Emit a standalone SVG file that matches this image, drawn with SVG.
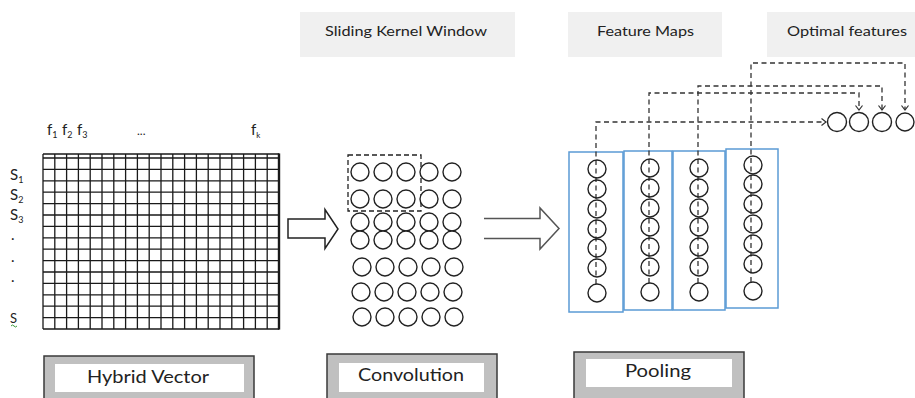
<svg xmlns="http://www.w3.org/2000/svg" width="915" height="398" viewBox="0 0 915 398">
  <defs>
    <style>
      .lbl { font-family: Lato, "Liberation Sans", sans-serif; fill: #222; }
      .tag { fill: #f0f0f0; }
      .grid { fill: none; stroke: #1a1a1a; stroke-width: 1.3; }
      .node { fill: #fff; stroke: #222; stroke-width: 1.4; }
      .pool { fill: #fff; stroke: #5b9bd5; stroke-width: 1.5; }
      .link { fill: none; stroke: #333; stroke-width: 1.3; stroke-dasharray: 5 3.5; }
      .stage { fill: #c0c0c0; stroke: #3a3a3a; stroke-width: 1.5; }
      .inner { fill: #fff; }
    </style>
    <marker id="chev" markerWidth="8" markerHeight="8" refX="5.5" refY="4" orient="auto" markerUnits="userSpaceOnUse">
      <path d="M1,0.5 L5.5,4 L1,7.5" fill="none" stroke="#333" stroke-width="1.2"/>
    </marker>
  </defs>

  <rect width="915" height="398" fill="#fff"/>

  <!-- header tags -->
  <g id="tag-kernel">
    <rect class="tag" x="300" y="12" width="215" height="45"/>
    <text class="lbl" x="406" y="36" font-size="14" text-anchor="middle" textLength="162" lengthAdjust="spacingAndGlyphs">Sliding Kernel Window</text>
  </g>
  <g id="tag-maps">
    <rect class="tag" x="568" y="12" width="154" height="45"/>
    <text class="lbl" x="645.5" y="36" font-size="14" text-anchor="middle" textLength="97" lengthAdjust="spacingAndGlyphs">Feature Maps</text>
  </g>
  <g id="tag-optimal">
    <rect class="tag" x="767" y="12" width="148" height="45"/>
    <text class="lbl" x="847" y="36" font-size="14" text-anchor="middle" textLength="120" lengthAdjust="spacingAndGlyphs">Optimal features</text>
  </g>

  <!-- input matrix -->
  <g id="hybrid-matrix">
    <g class="lbl" font-size="15">
      <text x="47" y="135">f<tspan font-size="9" dy="3">1</tspan></text>
      <text x="62" y="135">f<tspan font-size="9" dy="3">2</tspan></text>
      <text x="77" y="135">f<tspan font-size="9" dy="3">3</tspan></text>
      <text x="137" y="135" font-size="12">...</text>
      <text x="251" y="135">f<tspan font-size="8" dy="3">k</tspan></text>
      <text x="10" y="180">S<tspan font-size="9" dy="3">1</tspan></text>
      <text x="10" y="200">S<tspan font-size="9" dy="3">2</tspan></text>
      <text x="10" y="220">S<tspan font-size="9" dy="3">3</tspan></text>
      <text x="11" y="240">.</text>
      <text x="11" y="262">.</text>
      <text x="11" y="282">.</text>
      <text x="10" y="323" font-size="13">S</text>
    </g>
    <path d="M11,326 q1.5,-2 3,0 t3,0" fill="none" stroke="#3a9a3a" stroke-width="1"/>
    <path class="grid" d="M43,154 V329 M54.8,154 V329 M66.6,154 V329 M78.4,154 V329 M90.2,154 V329 M102,154 V329 M113.8,154 V329 M125.6,154 V329 M137.4,154 V329 M149.2,154 V329 M161,154 V329 M172.8,154 V329 M184.6,154 V329 M196.4,154 V329 M208.2,154 V329 M220,154 V329 M231.8,154 V329 M243.6,154 V329 M255.4,154 V329 M267.2,154 V329
      M43,154 H279 M43,158 H279 M43,169.4 H279 M43,180.8 H279 M43,192.2 H279 M43,203.6 H279 M43,215 H279 M43,226.4 H279 M43,237.8 H279 M43,249.2 H279 M43,260.6 H279 M43,272 H279 M43,283.4 H279 M43,294.8 H279 M43,306.2 H279 M43,317.6 H279 M43,329 H279"/>
    <path d="M279,153.4 V329.6" stroke="#1a1a1a" stroke-width="2.4"/>
  </g>

  <!-- convolution neurons -->
  <g id="conv-layer">
    <rect x="348" y="155" width="73" height="56" fill="none" stroke="#222" stroke-width="1.3" stroke-dasharray="5 3"/>
    <g class="node">
      <circle cx="360" cy="172" r="9"/><circle cx="383" cy="172" r="9"/><circle cx="406" cy="172" r="9"/><circle cx="429" cy="172" r="9"/><circle cx="452" cy="172" r="9"/>
      <circle cx="360" cy="199" r="9"/><circle cx="383" cy="199" r="9"/><circle cx="406" cy="199" r="9"/><circle cx="429" cy="199" r="9"/><circle cx="452" cy="199" r="9"/>
      <circle cx="360" cy="222" r="9"/><circle cx="383" cy="222" r="9"/><circle cx="406" cy="222" r="9"/><circle cx="429" cy="222" r="9"/><circle cx="452" cy="222" r="9"/>
      <circle cx="360" cy="240" r="9"/><circle cx="383" cy="240" r="9"/><circle cx="406" cy="240" r="9"/><circle cx="429" cy="240" r="9"/><circle cx="452" cy="240" r="9"/>
      <circle cx="362" cy="267" r="9"/><circle cx="385" cy="267" r="9"/><circle cx="408" cy="267" r="9"/><circle cx="431" cy="267" r="9"/><circle cx="454" cy="267" r="9"/>
      <circle cx="361" cy="292" r="9"/><circle cx="384" cy="292" r="9"/><circle cx="407" cy="292" r="9"/><circle cx="430" cy="292" r="9"/><circle cx="453" cy="292" r="9"/>
      <circle cx="362" cy="317" r="9"/><circle cx="385" cy="317" r="9"/><circle cx="408" cy="317" r="9"/><circle cx="431" cy="317" r="9"/><circle cx="454" cy="317" r="9"/>
    </g>
  </g>

  <!-- pooling maps -->
  <g id="map-1">
    <rect class="pool" x="569" y="152" width="54" height="160"/>
  </g>
  <g id="map-2">
    <rect class="pool" x="624" y="151" width="48" height="159"/>
  </g>
  <g id="map-3">
    <rect class="pool" x="673" y="151" width="52" height="159"/>
  </g>
  <g id="map-4">
    <rect class="pool" x="726" y="149" width="52" height="159"/>
  </g>

  <!-- optimal feature outputs -->
  <g id="optimal-features" class="node">
    <circle cx="837" cy="122" r="9.5"/>
    <circle cx="859" cy="122" r="9.5"/>
    <circle cx="882" cy="122" r="9.5"/>
    <circle cx="905" cy="122" r="9"/>
  </g>

  <!-- connectors -->
  <g id="connectors">
    <path d="M288,219 H325 V209.5 L338,229 L325,248.5 V238 H288 Z" fill="#fff" stroke="#222" stroke-width="1.5"/>
    <path d="M484,218.5 H540 V208 L559,228.5 L540,249 V238.5 H484" fill="#fff" stroke="#555" stroke-width="1.5"/>
    <path class="link" d="M751,282 V63 H905 V110" marker-end="url(#chev)"/>
    <path class="link" d="M698,283 V86 H882 V110" marker-end="url(#chev)"/>
    <path class="link" d="M649,283 V93 H859 V110" marker-end="url(#chev)"/>
    <path class="link" d="M596,284 V122 H826" marker-end="url(#chev)"/>
  </g>

  <!-- pooled neurons drawn over the map links -->
  <g id="map-neurons" fill="none" stroke="#222" stroke-width="1.4">
    <circle cx="597" cy="169" r="9"/><circle cx="597" cy="189" r="9"/><circle cx="597" cy="209" r="9"/><circle cx="597" cy="229" r="9"/><circle cx="597" cy="248" r="9"/><circle cx="597" cy="268" r="9"/><circle cx="597" cy="293" r="9" fill="#fff"/>
    <circle cx="650" cy="168" r="9"/><circle cx="650" cy="188" r="9"/><circle cx="650" cy="208" r="9"/><circle cx="650" cy="227" r="9"/><circle cx="650" cy="247" r="9"/><circle cx="650" cy="267" r="9"/><circle cx="650" cy="292" r="9" fill="#fff"/>
    <circle cx="699" cy="168" r="9"/><circle cx="699" cy="188" r="9"/><circle cx="699" cy="208" r="9"/><circle cx="699" cy="227" r="9"/><circle cx="699" cy="247" r="9"/><circle cx="699" cy="267" r="9"/><circle cx="699" cy="292" r="9" fill="#fff"/>
    <circle cx="753" cy="165" r="9"/><circle cx="753" cy="184" r="9"/><circle cx="753" cy="204" r="9"/><circle cx="753" cy="224" r="9"/><circle cx="753" cy="244" r="9"/><circle cx="753" cy="264" r="9"/><circle cx="753" cy="291" r="9" fill="#fff"/>
  </g>

  <!-- stage captions -->
  <g id="stage-hybrid">
    <rect class="stage" x="44" y="356" width="210" height="44"/>
    <rect class="inner" x="55" y="364" width="189" height="28"/>
    <text class="lbl" x="148" y="383" font-size="18" text-anchor="middle" textLength="122" lengthAdjust="spacingAndGlyphs">Hybrid Vector</text>
  </g>
  <g id="stage-conv">
    <rect class="stage" x="327" y="354" width="170" height="46"/>
    <rect class="inner" x="339" y="363" width="145" height="29"/>
    <text class="lbl" x="411" y="381" font-size="18" text-anchor="middle" textLength="106" lengthAdjust="spacingAndGlyphs">Convolution</text>
  </g>
  <g id="stage-pool">
    <rect class="stage" x="574" y="352" width="170" height="48"/>
    <rect class="inner" x="586" y="359" width="146" height="28"/>
    <text class="lbl" x="658" y="377" font-size="18" text-anchor="middle" textLength="66" lengthAdjust="spacingAndGlyphs">Pooling</text>
  </g>
</svg>
